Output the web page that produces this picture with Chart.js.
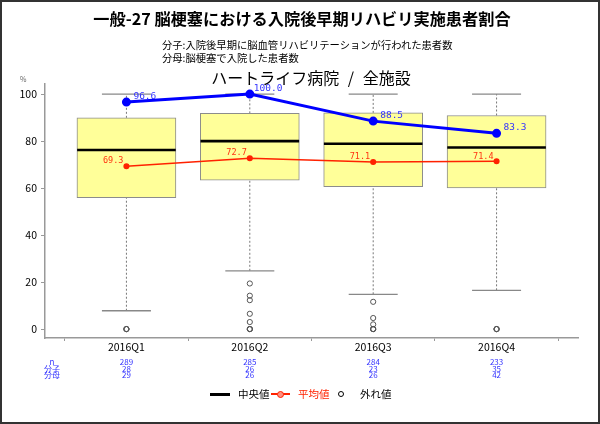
<!DOCTYPE html>
<html><head><meta charset="utf-8">
<script src="https://cdn.jsdelivr.net/npm/chart.js@4.4.1/dist/chart.umd.min.js"></script>
<style>
html,body{margin:0;padding:0;background:#fff;}
#wrap{position:relative;width:600px;height:424px;overflow:hidden;font-family:"Noto Sans CJK JP","Noto Sans",sans-serif;}
#frame{position:absolute;left:0;top:0;width:600px;height:424px;box-sizing:border-box;border:2px solid #333;pointer-events:none;}
canvas{position:absolute;left:0;top:0;}
.t{position:absolute;white-space:pre;color:#000;}
</style></head>
<body><div id="wrap">
<canvas id="c" width="600" height="424"></canvas>
<div class="t" style="left:0;width:604px;text-align:center;top:8px;font-size:16.2px;line-height:20px;font-weight:bold;">一般-27 脳梗塞における入院後早期リハビリ実施患者割合</div>
<div class="t" style="left:162px;top:38px;font-size:10.3px;line-height:13px;">分子:入院後早期に脳血管リハビリテーションが行われた患者数
分母:脳梗塞で入院した患者数</div>
<div class="t" style="left:0;width:622px;text-align:center;top:66px;font-size:16px;line-height:22px;word-spacing:5px;">ハートライフ病院 / 全施設</div>
<div class="t" style="left:20px;top:75px;font-size:7px;line-height:8px;color:#666;">%</div>
<!-- legend -->
<div style="position:absolute;left:210px;top:393px;width:20px;height:2.5px;background:#000;"></div>
<div class="t" style="left:238px;top:387px;font-size:10.5px;line-height:14px;">中央値</div>
<div style="position:absolute;left:271px;top:393px;width:19px;height:2px;background:#ff2200;"></div>
<div style="position:absolute;left:277px;top:390.5px;width:5px;height:5px;border:1.2px solid #ff2200;border-radius:50%;background:#ff9080;"></div>
<div class="t" style="left:298px;top:387px;font-size:10.5px;line-height:14px;color:#ff2200;">平均値</div>
<div style="position:absolute;left:337.5px;top:390.5px;width:4.5px;height:4.5px;border:1.6px solid #000;border-radius:50%;"></div>
<div class="t" style="left:360px;top:387px;font-size:10.5px;line-height:14px;">外れ値</div>
<div id="frame"></div>
</div>
<script>
const categories = ['2016Q1','2016Q2','2016Q3','2016Q4'];
const boxLow = [55.9, 63.4, 60.6, 60.1];
const boxHigh = [89.9, 91.8, 92.0, 90.9];
const medians = [76.2, 80.0, 78.9, 77.3];
const whiskerLow = [7.8, 24.8, 14.8, 16.5];
const whiskerHigh = [100, 100, 100, 100];
const outliers = [[0,0,0],[19.4,14.2,12.3,6.5,3.0,0,0,0],[11.6,4.7,2.0,0,0,0],[0,0,0]];
const hospital = [96.6, 100.0, 88.5, 83.3];
const allMean = [69.3, 72.7, 71.1, 71.4];
const nCounts = [289, 285, 284, 233];
const numerators = [28, 26, 23, 35];
const denominators = [29, 26, 26, 42];
const rowLabels = ['n', '分子', '分母'];
const yTicks = [0, 20, 40, 60, 80, 100];

const boxData = categories.map((c,i)=>({x:i, y:[boxLow[i], boxHigh[i]]}));
const medData = categories.map((c,i)=>({x:i, y:medians[i]}));
const capData = [];
categories.forEach((c,i)=>{capData.push({x:i,y:whiskerHigh[i]});capData.push({x:i,y:whiskerLow[i]});});
const whiskData = [];
categories.forEach((c,i)=>{
  whiskData.push({x:i,y:boxHigh[i]},{x:i,y:whiskerHigh[i]},{x:i,y:null},
                 {x:i,y:whiskerLow[i]},{x:i,y:boxLow[i]},{x:i,y:null});
});
const outData = [];
outliers.forEach((arr,i)=>arr.forEach(v=>outData.push({x:i,y:v})));
const hospData = categories.map((c,i)=>({x:i,y:hospital[i]}));
const meanData = categories.map((c,i)=>({x:i,y:allMean[i]}));

const labelPlugin = {
  id:'labels',
  afterDatasetsDraw(chart){
    const ctx = chart.ctx;
    ctx.save();
    const mMeta = chart.getDatasetMeta(5);
    ctx.font = '8.5px "DejaVu Sans Mono", monospace';
    ctx.fillStyle = '#ff3311';
    ctx.textAlign = 'right'; ctx.textBaseline = 'middle';
    mMeta.data.forEach((p,i)=>ctx.fillText(allMean[i].toFixed(1), p.x-3, p.y-5));
    const hMeta = chart.getDatasetMeta(6);
    ctx.font = '9.5px "DejaVu Sans Mono", monospace';
    ctx.fillStyle = '#3333ff';
    ctx.textAlign = 'left';
    hMeta.data.forEach((p,i)=>ctx.fillText(hospital[i].toFixed(1), p.x+(i===1?4:7), p.y-6));
    const xs = chart.scales.x;
    const rows = [nCounts, numerators, denominators];
    const rowY = [362, 368.5, 375];
    ctx.font = '8px "Noto Sans CJK JP", sans-serif';
    ctx.textAlign = 'center';
    rows.forEach((r,ri)=>{
      r.forEach((v,i)=>ctx.fillText(String(v), xs.getPixelForValue(i), rowY[ri]));
      ctx.fillText(rowLabels[ri], 52, rowY[ri]);
    });
    ctx.restore();
  }
};

new Chart(document.getElementById('c'), {
  type:'bar',
  data:{datasets:[
    {type:'bar', data:boxData, backgroundColor:'#ffff99', borderColor:'#8c8c8c', borderWidth:1, borderSkipped:false, barThickness:99, order:10},
    {type:'line', data:whiskData, borderColor:'#777', borderWidth:1, borderDash:[2,2], pointRadius:0, spanGaps:false, order:11},
    {type:'line', data:capData, showLine:false, pointStyle:'line', pointRadius:24.5, pointBorderColor:'#888', pointBorderWidth:1.3, order:9},
    {type:'line', data:medData, showLine:false, pointStyle:'line', pointRadius:49.3, pointBorderColor:'#000', pointBorderWidth:2.6, order:8},
    {type:'line', data:outData, showLine:false, pointStyle:'circle', pointRadius:2.6, pointBorderColor:'#555', pointBackgroundColor:'rgba(0,0,0,0)', pointBorderWidth:1, order:7},
    {type:'line', data:meanData, borderColor:'#ff2200', borderWidth:1.5, pointRadius:2.3, pointBackgroundColor:'#ff2200', pointBorderColor:'#ff2200', order:2},
    {type:'line', data:hospData, borderColor:'#0000ff', borderWidth:3, pointRadius:3, pointBackgroundColor:'#0000ff', pointBorderColor:'#0000ff', order:1}
  ]},
  options:{
    responsive:false, animation:false, devicePixelRatio:1,
    layout:{autoPadding:false, padding:{left:0, top:84, right:22, bottom:0}},
    plugins:{legend:{display:false}, tooltip:{enabled:false}},
    scales:{
      x:{type:'linear', min:-0.66, max:3.66, offset:false,
        afterBuildTicks(s){ s.ticks = categories.map((c,i)=>({value:i})); },
        afterFit(s){ s.height = 86; s.paddingLeft = 0; s.paddingRight = 0; },
        grid:{drawOnChartArea:false, drawTicks:true, tickLength:3, color:'#999'},
        border:{color:'#999', width:1.5},
        ticks:{padding:0, color:'#000', font:{size:10.5, family:'"Noto Sans CJK JP", sans-serif'},
          callback:(v)=>categories[v], maxRotation:0, autoSkip:false}
      },
      y:{type:'linear', min:-3.8, max:104.3,
        afterBuildTicks(s){ s.ticks = yTicks.map(v=>({value:v})); },
        afterFit(s){ s.width = 45; s.paddingTop = 0; s.paddingBottom = 0; },
        grid:{drawOnChartArea:false, drawTicks:true, tickLength:4, color:'#999'},
        border:{color:'#999', width:1.5},
        ticks:{padding:4, color:'#000', font:{size:10.5, family:'"Noto Sans CJK JP", sans-serif'}}
      }
    }
  },
  plugins:[labelPlugin]
});
</script>
</body></html>
